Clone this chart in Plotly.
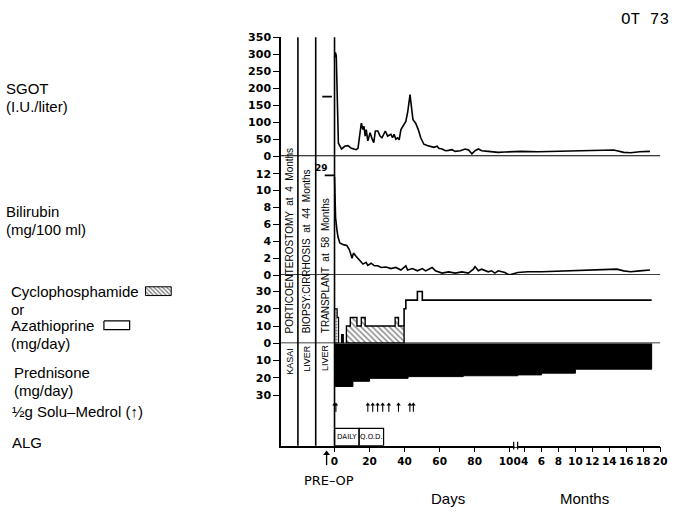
import plotly.graph_objects as go

# ---------------- data ----------------
day_ticks = [0, 20, 40, 60, 80, 100]
month_ticks = [4, 6, 8, 10, 12, 14, 16, 18, 20]

sgot_days = [0, 0.5, 1, 2.2, 4, 5.8, 7.7, 9.6, 12.4, 13.4, 14.3, 15.3, 16.2, 16.8, 17.5, 18.1,
             19, 20.3, 21.5, 22.4, 23.3, 24.7, 26, 27.1, 29, 30.3, 32.2, 33.1, 34, 35, 36, 36.9,
             37.9, 39.2, 40.7, 41.8, 43.1, 44.1, 44.8, 46.3, 47.8, 49.2, 51, 52.9, 54.8, 56.7,
             58.6, 59.5, 61.4, 63.3, 65.1, 67, 68.9, 71.8, 74.6, 76.5, 78.4, 80.2, 82.1, 84,
             87.7, 93.4, 97.2, 100]
sgot_day_vals = [290, 305, 295, 38, 21, 29, 31, 23, 19, 23, 59, 97, 78, 88, 59, 78,
                 45, 69, 50, 40, 74, 74, 59, 54, 74, 59, 64, 54, 64, 50, 54, 48,
                 78, 88, 102, 131, 181, 136, 107, 97, 78, 54, 35, 31, 29, 26,
                 29, 23, 21, 16, 17, 19, 14, 16, 21, 18, 7, 16, 21, 16,
                 14, 11, 12, 13]
sgot_months = [3.6, 5.6, 7.5, 9.5, 11.4, 13.3, 14.5, 14.9, 15.7, 16.5, 17.6, 18.8]
sgot_month_vals = [14, 13, 14, 15, 16, 16, 18, 16, 11, 10, 13, 14]
sgot_preop = 175

bili_days = [0, 0.6, 1.4, 2, 3, 5, 7, 8.5, 10, 10.8, 12.4, 14.3, 16.2, 18, 19, 20.9, 22.8,
             24.7, 26.6, 29.4, 32.2, 35, 37.9, 40.7, 41.7, 44.5, 47.3, 50.1, 52, 55.7, 57.6,
             61.4, 65.1, 68.9, 72.7, 76.4, 79.3, 80.2, 82.1, 84, 87.7, 89.7, 91.5, 93.4,
             97.2, 99, 100]
bili_day_vals = [11.6, 6.8, 5.3, 4.5, 3.8, 3.6, 3.5, 3.0, 2.0, 2.6, 2.2, 1.8, 1.3, 1.5, 1.15,
                 1.4, 1.1, 1.1, 0.9, 0.96, 0.77, 0.9, 0.6, 1.1, 0.6, 0.77, 0.5, 0.77, 0.5,
                 0.9, 0.5, 0.23, 0.38, 0.23, 0.38, 0.23, 0.69, 1.0, 0.5, 0.69, 0.38, 0.5,
                 0.23, 0.5, 0.3, 0.1, 0.05]
bili_months = [3.2, 4.4, 6, 7.5, 9.5, 11.4, 13.3, 14.9, 15.7, 16.5, 17.6, 18.8]
bili_month_vals = [0.3, 0.4, 0.4, 0.45, 0.6, 0.6, 0.65, 0.7, 0.5, 0.4, 0.5, 0.6]
bili_preop = 29          # off scale, drawn at the top of the panel
bili_clip = 11.8

# cyclophosphamide (hatched) steps
cyclo_early_days = [0, 1.5]
cyclo_early_vals = [20, 15]
cyclo_early_end = 2.3
cyclo_days = [6.8, 9, 12.8, 15.3, 17.5, 34.6, 36.5]
cyclo_vals = [10, 15, 10, 15, 10, 15, 10]
cyclo_end = 39.7

# azathioprine (open) steps
aza_small_days = [4]
aza_small_vals = [5]
aza_small_end = 5
aza_days = [39.7, 40.7, 47.3, 50.1]
aza_vals = [20, 25, 30, 25]
aza_end_month = 19

# prednisone steps
pred_days = [0, 10.5, 20, 42, 73.5]
pred_day_vals = [25, 22, 20.3, 19.3, 18.8]
pred_months = [3.2, 6, 10]
pred_month_vals = [18.3, 17.3, 15]
pred_end_month = 19

medrol_days = [0, 0.8, 19, 21.8, 24.6, 27.5, 31, 36.5, 43, 45]

alg_start = [0, 14]
alg_end = [14, 28]
alg_labels = ["DAILY", "Q.O.D."]

# ---------------- broken x axis: days then months ----------------
PX_PER_DAY = 1.77
MONTH_UNITS = 8.56 / PX_PER_DAY


def mx(m):
    return 108.47 + (m - 4) * MONTH_UNITS


W, H = 680, 518


def fx(px):
    return px / W


def fy(py):
    return (H - py) / H


def steps(starts, vals, end):
    xs, ys = [], []
    for i, (s, v) in enumerate(zip(starts, vals)):
        e = starts[i + 1] if i + 1 < len(starts) else end
        xs += [s, e]
        ys += [v, v]
    return xs, ys


LW = 1.6
fig = go.Figure()

# SGOT
fig.add_trace(go.Scatter(x=sgot_days + [mx(m) for m in sgot_months],
                         y=sgot_day_vals + sgot_month_vals, mode="lines",
                         line=dict(color="black", width=LW), xaxis="x", yaxis="y"))
fig.add_trace(go.Scatter(x=[-7, -1.5], y=[sgot_preop, sgot_preop], mode="lines",
                         line=dict(color="black", width=LW), xaxis="x", yaxis="y"))

# Bilirubin
fig.add_trace(go.Scatter(x=bili_days + [mx(m) for m in bili_months],
                         y=bili_day_vals + bili_month_vals, mode="lines",
                         line=dict(color="black", width=LW), xaxis="x", yaxis="y2"))
fig.add_trace(go.Scatter(x=[-5.6, 0], y=[bili_clip, bili_clip], mode="lines",
                         line=dict(color="black", width=LW), xaxis="x", yaxis="y2"))
fig.add_trace(go.Scatter(x=[-7.6], y=[12.6], mode="text", text=[str(bili_preop)],
                         textfont=dict(family="DejaVu Sans", size=9, color="black",
                                       weight="bold"),
                         xaxis="x", yaxis="y2"))

# Cyclophosphamide hatched blocks
ex, ey = steps(cyclo_early_days, cyclo_early_vals, cyclo_early_end)
fig.add_trace(go.Scatter(x=[ex[0]] + ex + [ex[-1], ex[0]], y=[0] + ey + [0, 0],
                         mode="lines", fill="toself", fillcolor="white",
                         fillpattern=dict(shape=".", fgcolor="black", bgcolor="white",
                                          size=3, solidity=0.4),
                         line=dict(color="black", width=1.2), xaxis="x", yaxis="y3"))
cx, cy = steps(cyclo_days, cyclo_vals, cyclo_end)
fig.add_trace(go.Scatter(x=[cx[0]] + cx + [cx[-1], cx[0]], y=[0] + cy + [0, 0],
                         mode="lines", fill="toself", fillcolor="white",
                         fillpattern=dict(shape="\\", fgcolor="black", bgcolor="white",
                                          size=4, solidity=0.35),
                         line=dict(color="black", width=1.4), xaxis="x", yaxis="y3"))

# Azathioprine open blocks
sx, sy = steps(aza_small_days, aza_small_vals, aza_small_end)
fig.add_trace(go.Scatter(x=[sx[0]] + sx + [sx[-1], sx[0]], y=[0] + sy + [0, 0],
                         mode="lines", fill="toself", fillcolor="black",
                         line=dict(color="black", width=1.2), xaxis="x", yaxis="y3"))
ax_, ay_ = steps(aza_days, aza_vals, mx(aza_end_month))
fig.add_trace(go.Scatter(x=[ax_[0]] + ax_, y=[cyclo_vals[-1]] + ay_, mode="lines",
                         line=dict(color="black", width=LW), xaxis="x", yaxis="y3"))

# Prednisone (black, downward)
p_starts = pred_days + [mx(m) for m in pred_months]
p_vals = pred_day_vals + pred_month_vals
px_, py_ = steps(p_starts, p_vals, mx(pred_end_month))
fig.add_trace(go.Scatter(x=[px_[0]] + px_ + [px_[-1]], y=[0] + py_ + [0], mode="lines",
                         fill="toself", fillcolor="black",
                         line=dict(color="black", width=1), xaxis="x", yaxis="y4"))

# Solu-Medrol arrows: stem + head
ARROW_TOP, ARROW_BOT = 34.6, 39.6
stem_x, stem_y = [], []
for d in medrol_days:
    stem_x += [d, d, None]
    stem_y += [ARROW_BOT, ARROW_TOP + 1.0, None]
fig.add_trace(go.Scatter(x=stem_x, y=stem_y, mode="lines",
                         line=dict(color="black", width=1.1), xaxis="x", yaxis="y4"))
fig.add_trace(go.Scatter(x=medrol_days, y=[ARROW_TOP + 0.9] * len(medrol_days), mode="markers",
                         marker=dict(symbol="triangle-up", size=4, color="black",
                                     line=dict(width=0)),
                         xaxis="x", yaxis="y4"))

# ALG boxes
ALG_TOP, ALG_BOT = 49.3, 59.3
for s, e, lab in zip(alg_start, alg_end, alg_labels):
    fig.add_trace(go.Scatter(x=[s, e, e, s, s], y=[ALG_TOP, ALG_TOP, ALG_BOT, ALG_BOT, ALG_TOP],
                             mode="lines", line=dict(color="black", width=1.2),
                             xaxis="x", yaxis="y4"))
    fig.add_trace(go.Scatter(x=[(s + e) / 2], y=[(ALG_TOP + ALG_BOT) / 2], mode="text",
                             text=[lab], textfont=dict(family="DejaVu Sans", size=7,
                                                       color="black"),
                             xaxis="x", yaxis="y4"))

# legend swatches on an invisible pixel-space axis in the left margin
fig.add_trace(go.Scatter(x=[147, 173, 173, 147, 147], y=[288, 288, 297, 297, 288],
                         mode="lines", fill="toself", fillcolor="white",
                         fillpattern=dict(shape="\\", fgcolor="black", bgcolor="white",
                                          size=3, solidity=0.45),
                         line=dict(color="black", width=1), xaxis="x2", yaxis="y5"))
fig.add_trace(go.Scatter(x=[105, 131, 131, 105, 105], y=[323, 323, 332, 332, 323],
                         mode="lines", line=dict(color="black", width=1.2),
                         xaxis="x2", yaxis="y5"))
# PRE-OP arrow (stem + head) in pixel space
fig.add_trace(go.Scatter(x=[330, 330], y=[471, 459], mode="lines",
                         line=dict(color="black", width=1.3), xaxis="x2", yaxis="y5"))
fig.add_trace(go.Scatter(x=[330], y=[459], mode="markers",
                         marker=dict(symbol="triangle-up", size=6, color="black",
                                     line=dict(width=0)),
                         xaxis="x2", yaxis="y5"))

# ---------------- axes ----------------
ytickfont = dict(family="DejaVu Sans", size=11, color="black", weight="bold")
xtickfont = dict(family="DejaVu Sans", size=10.5, color="black", weight="bold")
ax_common = dict(showline=True, linecolor="black", linewidth=1.6, ticks="outside",
                 ticklen=6, tickwidth=1.4, tickcolor="black", showgrid=False,
                 zeroline=False, tickfont=ytickfont, anchor="x", fixedrange=True)

xL, xR = 284, 667
x_lo = (xL - 338) / PX_PER_DAY
x_hi = mx(20)

fig.update_layout(
    width=W, height=H, margin=dict(l=0, r=0, t=0, b=0),
    paper_bgcolor="white", plot_bgcolor="rgba(0,0,0,0)", showlegend=False,
    xaxis=dict(domain=[fx(xL), fx(xR)], range=[x_lo, x_hi], showline=True,
               linecolor="black", linewidth=1.6, ticks="outside", ticklen=5,
               tickwidth=1.4, tickcolor="black", showgrid=False, zeroline=False,
               tickvals=day_ticks + [mx(m) for m in month_ticks],
               ticktext=[str(d) for d in day_ticks] + [str(m) for m in month_ticks],
               tickfont=xtickfont, anchor="y4", tickangle=0),
    yaxis=dict(domain=[fy(154), fy(32)], range=[0, 350],
               tickvals=[0, 50, 100, 150, 200, 250, 300, 350], **ax_common),
    yaxis2=dict(domain=[fy(276), fy(154)], range=[0, (276 - 154) / 8.67],
                tickvals=[0, 2, 4, 6, 8, 10, 12], **ax_common),
    yaxis3=dict(domain=[fy(346), fy(276)], range=[0, (346 - 276) / 1.77],
                tickvals=[0, 10, 20, 30], **ax_common),
    yaxis4=dict(domain=[fy(451), fy(346)], range=[(451 - 346) / 1.77, 0],
                tickvals=[10, 20, 30], **ax_common),
    xaxis2=dict(domain=[0, 1], range=[0, W], visible=False, anchor="y5"),
    yaxis5=dict(domain=[0, 1], range=[H, 0], visible=False, anchor="x2"),
)

# ---------------- structure lines ----------------
shapes = []
for yr in ["y", "y2", "y3"]:
    shapes.append(dict(type="line", xref="paper", yref=yr, x0=fx(xL), x1=fx(xR),
                       y0=0, y1=0, line=dict(color="black", width=1.6)))
for xc in [(301 - 338) / PX_PER_DAY, (319 - 338) / PX_PER_DAY, 0]:
    shapes.append(dict(type="line", xref="x", yref="paper", x0=xc, x1=xc,
                       y0=fy(451), y1=fy(32), line=dict(color="black", width=1.6)))
# axis break
bx1, bx2 = (519 - 338) / PX_PER_DAY, (523 - 338) / PX_PER_DAY
shapes.append(dict(type="line", xref="x", yref="paper", x0=bx1 + 0.4, x1=bx2 - 0.4,
                   y0=fy(451), y1=fy(451), line=dict(color="white", width=3)))
for bx in [bx1, bx2]:
    shapes.append(dict(type="line", xref="x", yref="paper", x0=bx, x1=bx,
                       y0=fy(455), y1=fy(447), line=dict(color="black", width=1.2)))
fig.update_layout(shapes=shapes)

# ---------------- text ----------------
lab = dict(family="Liberation Sans", size=15, color="black")
ann = []


def txt(x, y, t, font=lab, xanchor="left", angle=0, yanchor="middle"):
    ann.append(dict(x=fx(x), y=fy(y), xref="paper", yref="paper", text=t, showarrow=False,
                    xanchor=xanchor, yanchor=yanchor, font=font, textangle=angle))


txt(4, 85, "SGOT")
txt(4, 103, "(I.U./liter)")
txt(4, 211, "Bilirubin")
txt(4, 229, "(mg/100 ml)")
txt(9, 293, "Cyclophosphamide")
txt(9, 311, "or")
txt(9, 328, "Azathioprine")
txt(9, 346, "(mg/day)")
txt(12, 376, "Prednisone")
txt(12, 394, "(mg/day)")
txt(10, 416, "½g Solu–Medrol (↑)")
txt(10, 448, "ALG")

txt(652, 14, "OT 73", font=dict(family="Liberation Mono", size=16, color="black"),
    xanchor="center")
txt(453, 505, "Days", xanchor="center")
txt(591, 505, "Months", xanchor="center")
txt(332, 487, "PRE–OP", font=dict(family="DejaVu Sans", size=13, color="black"),
    xanchor="center")

colf = dict(family="Liberation Sans", size=10, color="black")
txt(293, 338, "PORTICOENTEROSTOMY  at  4  Months", font=colf, xanchor="center",
    angle=-90, yanchor="bottom")
txt(310, 338, "BIOPSY:CIRRHOSIS  at  44  Months", font=colf, xanchor="center",
    angle=-90, yanchor="bottom")
txt(328.5, 338, "TRANSPLANT  at  58  Months", font=colf, xanchor="center",
    angle=-90, yanchor="bottom")
smallf = dict(family="Liberation Sans", size=9, color="black")
txt(293, 364, "KASAI", font=smallf, xanchor="center", angle=-90)
txt(310, 361, "LIVER", font=smallf, xanchor="center", angle=-90)
txt(328.5, 361, "LIVER", font=smallf, xanchor="center", angle=-90)

fig.update_layout(annotations=ann)
fig.write_html("out.html", config={"displayModeBar": False},
               post_script="document.body.style.margin='0';document.body.style.overflow='hidden';")
